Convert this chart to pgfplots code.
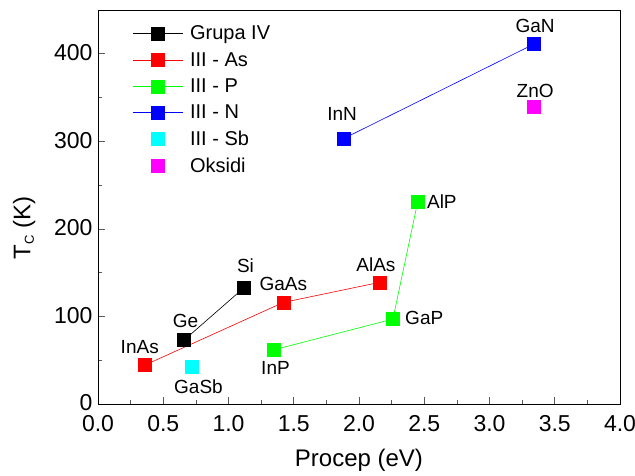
\documentclass[border=0pt]{standalone}
\usepackage{fontspec}
\setmainfont{Liberation Sans}
\usepackage{pgfplots}
\pgfplotsset{compat=1.18}
\definecolor{mygreen}{RGB}{0,255,0}
\definecolor{mycyan}{RGB}{0,255,255}
\definecolor{mymagenta}{RGB}{255,0,255}
\definecolor{myblue}{RGB}{0,0,255}
\definecolor{myred}{RGB}{255,0,0}
\begin{document}
\begin{tikzpicture}
\begin{axis}[
  scale only axis,
  width=522pt, height=394pt,
  xmin=0, xmax=4, ymin=0, ymax=450,
  xtick={0,0.5,...,4}, ytick={0,100,200,300,400},
  minor x tick num=1, minor y tick num=1,
  /pgf/number format/assume math mode=true,
  tick align=inside, tick pos=left,
  major tick length=7pt, minor tick length=4pt,
  tick style={gray!70!black, line width=0.6pt},
  axis line style={black, line width=0.8pt},
  ticklabel style={font=\fontsize{23}{27}\selectfont},
  xticklabel style={yshift=-8pt, /pgf/number format/.cd,fixed,fixed zerofill,precision=1},
  yticklabel style={xshift=-2pt, yshift=1pt},
  xlabel={Procep (eV)}, ylabel={T\textsubscript{\fontsize{13}{13}\selectfont C} (K)},
  label style={font=\fontsize{24}{28}\selectfont},
  xlabel style={yshift=-10pt},
  ylabel style={yshift=12pt, xshift=-21pt},
  legend style={draw=none, fill=none, at={(0.06,0.97)}, anchor=north west,
    font=\fontsize{20}{22}\selectfont, row sep=7pt},
  legend cell align=left,
  legend image code/.code={\draw[mark repeat=2,mark phase=2] plot coordinates {(0pt,0pt) (25pt,0pt) (50pt,0pt)}; \path (55pt,0pt);},
  every axis plot/.append style={line width=0.6pt, mark=square*, mark size=6.5pt},
]
\addplot[black, mark options={fill=black}] coordinates {(0.66,73) (1.12,133)};
\addlegendentry{Grupa IV}
\addplot[myred, mark options={fill=myred}] coordinates {(0.36,44.5) (1.42,116) (2.16,139)};
\addlegendentry{III - As}
\addplot[mygreen, mark options={fill=mygreen, draw=mygreen}] coordinates {(1.35,62) (2.26,97) (2.45,231)};
\addlegendentry{III - P}
\addplot[myblue, mark options={fill=myblue}] coordinates {(1.88,303) (3.34,411)};
\addlegendentry{III - N}
\addplot[only marks, mycyan, mark options={fill=mycyan},
  legend image code/.code={\draw plot[mark=square*] coordinates {(25pt,0pt)}; \path (0pt,0pt) (55pt,0pt);}] coordinates {(0.72,42.5)};
\addlegendentry{III - Sb}
\addplot[only marks, mymagenta, mark options={fill=mymagenta},
  legend image code/.code={\draw plot[mark=square*] coordinates {(25pt,0pt)}; \path (0pt,0pt) (55pt,0pt);}] coordinates {(3.34,339.5)};
\addlegendentry{Oksidi}
\begin{scope}[every node/.style={font=\fontsize{19}{22}\selectfont}]
\node at (axis cs:1.13,158) {Si};
\node at (axis cs:0.67,95) {Ge};
\node at (axis cs:0.32,65) {InAs};
\node at (axis cs:1.42,137) {GaAs};
\node at (axis cs:2.13,159) {AlAs};
\node at (axis cs:0.77,20) {GaSb};
\node at (axis cs:1.36,41) {InP};
\node at (axis cs:2.50,98) {GaP};
\node at (axis cs:2.635,231) {AlP};
\node at (axis cs:1.87,331) {InN};
\node at (axis cs:3.35,432) {GaN};
\node at (axis cs:3.35,357) {ZnO};
\end{scope}
\end{axis}
\pgfresetboundingbox
\path[use as bounding box] (-98pt,-71pt) rectangle (537pt,404pt);
\end{tikzpicture}
\end{document}
